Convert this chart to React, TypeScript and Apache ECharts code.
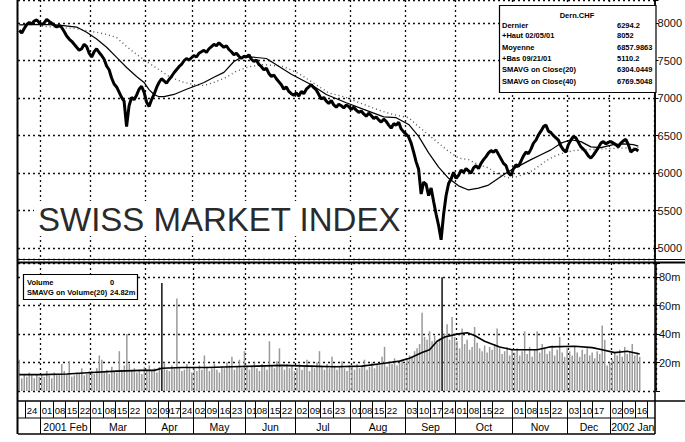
import React, { useEffect, useRef } from 'react';
import * as echarts from 'echarts';

// ---------- calendar ----------
const FIRST_DAY = '2001-01-19';
const LAST_DAY = '2002-01-25';
const HOLIDAYS = ['2001-04-13', '2001-04-16', '2001-05-01', '2001-05-24', '2001-06-04', '2001-08-01',
  '2001-12-24', '2001-12-25', '2001-12-26', '2001-12-31', '2002-01-01'];

// ---------- daily closes ----------
const closeJan01 = [7905, 7870, 7930, 7985, 8010, 7990, 8030, 8045, 8010];
const closeFeb01 = [7985, 8005, 8052, 8025, 8000, 7975, 7950, 7970, 7945, 7890, 7830, 7790, 7760, 7720, 7680, 7640, 7660, 7720, 7690, 7600];
const closeMar01 = [7550, 7620, 7660, 7610, 7570, 7520, 7430, 7380, 7270, 7190, 7150, 7080, 7010, 6960, 6620, 6900, 7010, 6980, 7040, 7120, 7160, 7080];
const closeApr01 = [6950, 6890, 6980, 7050, 7140, 7210, 7260, 7230, 7200, 7250, 7290, 7340, 7380, 7420, 7450, 7500, 7530, 7510, 7540];
const closeMay01 = [7570, 7550, 7600, 7620, 7640, 7610, 7660, 7690, 7720, 7700, 7740, 7710, 7680, 7700, 7650, 7620, 7580, 7600, 7560, 7530, 7560];
const closeJun01 = [7550, 7580, 7520, 7490, 7510, 7450, 7420, 7380, 7400, 7330, 7290, 7310, 7260, 7220, 7180, 7120, 7150, 7090, 7060, 7040];
const closeJul01 = [7070, 7030, 7090, 7060, 7120, 7150, 7180, 7140, 7110, 7050, 6990, 7010, 6960, 6930, 6970, 6910, 6880, 6920, 6900, 6870, 6910, 6890];
const closeAug01 = [6850, 6880, 6840, 6810, 6830, 6790, 6760, 6800, 6770, 6730, 6750, 6710, 6680, 6720, 6690, 6640, 6600, 6660, 6640, 6680, 6590, 6550];
const closeSep01 = [6520, 6480, 6400, 6280, 6150, 6050, 5720, 5880, 5850, 5700, 5800, 5620, 5450, 5300, 5110, 5450, 5700, 5860, 5920, 6010];
const closeOct01 = [5930, 5970, 6040, 6010, 6060, 6030, 6000, 6070, 6100, 6060, 6130, 6180, 6220, 6270, 6300, 6280, 6310, 6250, 6190, 6130, 6100, 6000, 5970];
const closeNov01 = [6060, 6110, 6090, 6160, 6230, 6280, 6260, 6320, 6400, 6440, 6510, 6560, 6620, 6640, 6560, 6540, 6500, 6470, 6440, 6360, 6310, 6280];
const closeDec01 = [6380, 6440, 6490, 6470, 6410, 6350, 6320, 6280, 6230, 6200, 6240, 6290, 6340, 6400, 6420, 6390, 6410];
const closeJan02 = [6420, 6400, 6380, 6350, 6400, 6430, 6450, 6380, 6280, 6310, 6320, 6294.2];

// ---------- daily volume, millions ----------
const volJan01 = [22, 9, 12, 10, 13, 11, 9, 12, 10];
const volFeb01 = [12, 10, 14, 11, 9, 13, 11, 12, 19, 14, 12, 21, 10, 11, 13, 12, 16, 11, 12, 14];
const volMar01 = [14, 12, 16, 25, 22, 13, 15, 12, 17, 14, 13, 28, 15, 18, 40, 19, 14, 16, 13, 15, 12, 17];
const volApr01 = [15, 18, 14, 16, 13, 17, 76, 20, 15, 14, 18, 16, 65, 17, 14, 15, 19, 16, 13];
const volMay01 = [16, 14, 18, 15, 25, 17, 14, 16, 19, 15, 13, 17, 16, 20, 18, 24, 15, 17, 22, 16, 28];
const volJun01 = [18, 15, 17, 20, 16, 14, 19, 17, 15, 35, 18, 16, 21, 30, 17, 15, 19, 16, 18, 14];
const volJul01 = [16, 19, 15, 17, 22, 14, 18, 16, 20, 28, 17, 15, 19, 16, 24, 18, 15, 17, 21, 16, 14, 18];
const volAug01 = [17, 15, 19, 16, 18, 22, 15, 17, 20, 16, 19, 18, 24, 31, 17, 21, 19, 23, 18, 20, 22, 19];
const volSep01 = [22, 25, 24, 28, 30, 33, 55, 38, 36, 42, 35, 39, 34, 37, 80, 40, 47, 36, 52, 38];
const volOct01 = [35, 30, 44, 33, 36, 29, 31, 45, 34, 30, 28, 32, 27, 31, 29, 33, 44, 30, 26, 28, 31, 25, 29];
const volNov01 = [27, 30, 25, 28, 42, 26, 31, 24, 29, 42, 27, 33, 30, 26, 28, 32, 25, 29, 38, 27, 24, 30];
const volDec01 = [28, 25, 31, 27, 24, 29, 26, 30, 25, 27, 23, 28, 26, 46, 36, 18, 20];
const volJan02 = [22, 27, 25, 29, 24, 31, 26, 28, 33, 25, 27, 24];

// ---------- moving averages ----------
const sma20Points: [string, number][] = [
  ['2001-01-19', 7980], ['2001-02-01', 7985], ['2001-02-12', 7975], ['2001-02-21', 7950], ['2001-02-27', 7880],
  ['2001-03-05', 7790], ['2001-03-09', 7680], ['2001-03-15', 7545], ['2001-03-21', 7410], ['2001-03-27', 7290],
  ['2001-03-30', 7210], ['2001-04-03', 7115], ['2001-04-05', 7050], ['2001-04-09', 7020], ['2001-04-11', 7020],
  ['2001-04-19', 7050], ['2001-04-26', 7120], ['2001-05-03', 7170], ['2001-05-08', 7210], ['2001-05-14', 7280],
  ['2001-05-18', 7345], ['2001-05-25', 7490], ['2001-05-30', 7545], ['2001-06-06', 7550], ['2001-06-14', 7530],
  ['2001-06-28', 7320], ['2001-07-10', 7180], ['2001-07-18', 7050], ['2001-07-30', 6940], ['2001-08-09', 6850],
  ['2001-08-21', 6750], ['2001-08-28', 6740], ['2001-09-04', 6650], ['2001-09-10', 6490], ['2001-09-14', 6270],
  ['2001-09-20', 6080], ['2001-09-26', 5930], ['2001-10-02', 5830], ['2001-10-08', 5775], ['2001-10-12', 5800],
  ['2001-10-18', 5840], ['2001-10-24', 5930], ['2001-10-30', 6020], ['2001-11-06', 6110], ['2001-11-12', 6180],
  ['2001-11-16', 6245], ['2001-11-22', 6310], ['2001-11-28', 6400], ['2001-12-04', 6445], ['2001-12-10', 6420],
  ['2001-12-14', 6350], ['2001-12-20', 6340], ['2002-01-03', 6380], ['2002-01-09', 6390], ['2002-01-15', 6380],
  ['2002-01-17', 6360],
];
const sma40Points: [string, number][] = [
  ['2001-02-01', 7960], ['2001-02-21', 7930], ['2001-02-27', 7900], ['2001-03-05', 7880], ['2001-03-09', 7850],
  ['2001-03-15', 7810], ['2001-03-21', 7690], ['2001-03-26', 7610], ['2001-04-02', 7490], ['2001-04-09', 7380],
  ['2001-04-17', 7290], ['2001-04-24', 7220], ['2001-05-02', 7180], ['2001-05-08', 7170], ['2001-05-14', 7210],
  ['2001-05-21', 7280], ['2001-05-28', 7360], ['2001-06-05', 7420], ['2001-06-13', 7450], ['2001-06-25', 7420],
  ['2001-07-03', 7330], ['2001-07-11', 7200], ['2001-07-19', 7070], ['2001-07-27', 7020], ['2001-08-08', 6930],
  ['2001-08-20', 6830], ['2001-08-27', 6780], ['2001-09-04', 6740], ['2001-09-10', 6620], ['2001-09-14', 6510],
  ['2001-09-20', 6400], ['2001-09-26', 6290], ['2001-10-02', 6200], ['2001-10-08', 6180], ['2001-10-12', 6110],
  ['2001-10-18', 6070], ['2001-10-24', 5980], ['2001-10-30', 5940], ['2001-11-01', 5940], ['2001-11-07', 5980],
  ['2001-11-13', 6040], ['2001-11-19', 6140], ['2001-11-23', 6220], ['2001-11-29', 6270], ['2001-12-05', 6300],
  ['2001-12-11', 6310], ['2001-12-18', 6320], ['2002-01-03', 6330], ['2002-01-17', 6340],
];
const volSmaPoints: [string, number][] = [
  ['2001-01-19', 11.5], ['2001-02-01', 11.5], ['2001-02-15', 12], ['2001-03-01', 13], ['2001-03-15', 14],
  ['2001-03-29', 14.5], ['2001-04-05', 14.5], ['2001-04-10', 16], ['2001-04-24', 16.5], ['2001-05-09', 16.5],
  ['2001-05-23', 17], ['2001-06-08', 17.5], ['2001-06-22', 18], ['2001-07-09', 17.5], ['2001-07-23', 17],
  ['2001-08-08', 17.5], ['2001-08-21', 19.5], ['2001-08-29', 21], ['2001-09-04', 23], ['2001-09-11', 27],
  ['2001-09-14', 29], ['2001-09-19', 35], ['2001-09-24', 38], ['2001-10-01', 40], ['2001-10-05', 41],
  ['2001-10-10', 39], ['2001-10-16', 35], ['2001-10-24', 31], ['2001-10-31', 29], ['2001-11-14', 29],
  ['2001-11-21', 31], ['2001-12-05', 31.5], ['2001-12-14', 30.5], ['2001-12-20', 29], ['2002-01-03', 27],
  ['2002-01-10', 28], ['2002-01-17', 26],
];

// ---------- axis table labels ----------
const weekStarts = ['2001-01-24', '2001-02-01', '2001-02-08', '2001-02-15', '2001-02-22', '2001-03-01', '2001-03-08',
  '2001-03-15', '2001-03-22', '2001-04-02', '2001-04-09', '2001-04-17', '2001-04-24', '2001-05-02', '2001-05-09',
  '2001-05-16', '2001-05-23', '2001-06-01', '2001-06-08', '2001-06-15', '2001-06-22', '2001-07-02', '2001-07-09',
  '2001-07-16', '2001-07-23', '2001-08-01', '2001-08-08', '2001-08-15', '2001-08-22', '2001-09-03', '2001-09-10',
  '2001-09-17', '2001-09-24', '2001-10-01', '2001-10-08', '2001-10-15', '2001-10-22', '2001-11-01', '2001-11-08',
  '2001-11-15', '2001-11-22', '2001-12-03', '2001-12-10', '2001-12-17', '2002-01-02', '2002-01-09', '2002-01-16'];
const weekEnd = '2002-01-23';
const monthStarts = ['2001-02-01', '2001-03-01', '2001-04-02', '2001-05-02', '2001-06-01', '2001-07-02', '2001-08-01',
  '2001-09-03', '2001-10-01', '2001-11-01', '2001-12-03', '2002-01-02'];
const monthNames = ['2001 Feb', 'Mar', 'Apr', 'May', 'Jun', 'Jul', 'Aug', 'Sep', 'Oct', 'Nov', 'Dec', '2002 Jan'];

const priceLegendTitle = 'Dern.CHF';
const priceLegendLabels = ['Dernier', '+Haut 02/05/01', 'Moyenne', '+Bas 09/21/01', 'SMAVG on Close(20)', 'SMAVG on Close(40)'];
const priceLegendValues = ['6294.2', '8052', '6857.9863', '5110.2', '6304.0449', '6769.5048'];
const volLegendLabels = ['Volume', 'SMAVG on Volume(20)'];
const volLegendValues = ['0', '24.82m'];
const bigTitle = 'SWISS MARKET INDEX';

// ---------- helpers ----------
function buildDates(): string[] {
  const out: string[] = [];
  const d = new Date(FIRST_DAY + 'T00:00:00Z');
  const end = new Date(LAST_DAY + 'T00:00:00Z').getTime();
  while (d.getTime() <= end) {
    const wd = d.getUTCDay();
    const s = d.toISOString().slice(0, 10);
    if (wd !== 0 && wd !== 6 && HOLIDAYS.indexOf(s) < 0) out.push(s);
    d.setUTCDate(d.getUTCDate() + 1);
  }
  return out;
}
const dates = buildDates();
const toCat = (d: string) => {
  const i = dates.findIndex((x) => x >= d);
  return i < 0 ? dates.length - 1 : i;
};
const closes = [...closeJan01, ...closeFeb01, ...closeMar01, ...closeApr01, ...closeMay01, ...closeJun01,
  ...closeJul01, ...closeAug01, ...closeSep01, ...closeOct01, ...closeNov01, ...closeDec01, ...closeJan02];
const volumes = [...volJan01, ...volFeb01, ...volMar01, ...volApr01, ...volMay01, ...volJun01, ...volJul01,
  ...volAug01, ...volSep01, ...volOct01, ...volNov01, ...volDec01, ...volJan02];
const monthStartIdx = new Set<number>();
dates.forEach((d, i) => { if (i > 0 && d.slice(0, 7) !== dates[i - 1].slice(0, 7)) monthStartIdx.add(i); });

const FONT = '"Liberation Sans", Arial, sans-serif';
const NARROW = '"Liberation Sans Narrow", "Liberation Sans", Arial, sans-serif';
const gridLine = { color: '#111', width: 1.3, type: [2, 3] as number[] };

export default function App() {
  const ref = useRef<HTMLDivElement>(null);
  useEffect(() => {
    const chart = echarts.init(ref.current!, null, { renderer: 'svg' });
    const xAxisBase = (gi: number) => ({
      type: 'category', gridIndex: gi, data: dates, boundaryGap: true,
      axisLine: { show: false }, axisTick: { show: false }, axisLabel: { show: false },
      splitLine: { show: true, interval: (idx: number) => monthStartIdx.has(idx), lineStyle: gridLine },
    });
    const option: any = {
      animation: false,
      backgroundColor: '#fff',
      grid: [
        { left: 18, top: 0, width: 638, height: 259 },
        { left: 18, top: 263, width: 638, height: 128 },
      ],
      xAxis: [xAxisBase(0), xAxisBase(1)],
      yAxis: [
        {
          type: 'value', gridIndex: 0, position: 'right', min: 4853, max: 8311, splitNumber: 7,
          axisLine: { show: true, lineStyle: { color: '#000', width: 1.5 } },
          axisTick: { show: true, length: 4, lineStyle: { color: '#000' } },
          axisLabel: {
            margin: 3, color: '#111', fontSize: 11, fontFamily: FONT,
            formatter: (v: number) => (Math.abs(v % 500) < 0.001 ? String(v) : ''),
          },
          splitLine: { show: true, lineStyle: gridLine },
        },
        {
          type: 'value', gridIndex: 1, position: 'right', min: 0, max: 90e6, interval: 20e6,
          axisLine: { show: true, lineStyle: { color: '#000', width: 1.5 } },
          axisTick: { show: true, length: 4, lineStyle: { color: '#000' } },
          axisLabel: {
            margin: 3, color: '#111', fontSize: 11, fontFamily: FONT,
            formatter: (v: number) => (v > 0 && v < 85e6 ? v / 1e6 + 'm' : ''),
          },
          splitLine: { show: true, lineStyle: gridLine },
        },
      ],
      series: [
        {
          type: 'bar', xAxisIndex: 1, yAxisIndex: 1, barWidth: 1.5,
          data: volumes.map((v) => v * 1e6),
          itemStyle: { color: (p: any) => (p.value > 70e6 ? '#111' : '#9a9a9a') },
          z: 2,
        },
        {
          type: 'line', xAxisIndex: 1, yAxisIndex: 1, symbol: 'none',
          data: volSmaPoints.map(([d, v]) => [toCat(d), v * 1e6]),
          lineStyle: { color: '#000', width: 1.6 }, z: 3,
        },
        {
          type: 'line', xAxisIndex: 0, yAxisIndex: 0, symbol: 'none',
          data: sma40Points.map(([d, v]) => [toCat(d), v]),
          lineStyle: { color: '#555', width: 1.4, type: [1, 3] }, z: 3,
        },
        {
          type: 'line', xAxisIndex: 0, yAxisIndex: 0, symbol: 'none',
          data: sma20Points.map(([d, v]) => [toCat(d), v]),
          lineStyle: { color: '#000', width: 1.2 }, z: 4,
        },
        {
          type: 'line', xAxisIndex: 0, yAxisIndex: 0, symbol: 'none',
          data: closes,
          lineStyle: { color: '#000', width: 3 }, z: 5,
        },
      ],
    };
    chart.setOption(option);

    const px = (i: number) => chart.convertToPixel({ xAxisIndex: 0 }, i) as number;
    const bw = px(1) - px(0);
    const edge = (i: number) => Math.round(px(i) - bw / 2) + 0.5;
    const rightEdge = Math.round(px(dates.length - 1) + bw / 2);

    const els: any[] = [];
    const line = (x1: number, y1: number, x2: number, y2: number, w = 1, extra: any = {}) => ({
      type: 'line', z: 100, silent: true, shape: { x1, y1, x2, y2 },
      style: { stroke: '#000', lineWidth: w, ...extra },
    });
    const text = (t: string, x: number, y: number, o: any = {}) => ({
      type: 'text', z: 102, silent: true, x, y,
      style: {
        text: t, fill: '#000', fontSize: 10, fontFamily: FONT,
        align: o.align || 'left', verticalAlign: 'middle',
        textAlign: o.align || 'left', textVerticalAlign: 'middle', ...o,
      },
    });

    // title
    els.push({ type: 'rect', z: 100, silent: true, shape: { x: 34, y: 201, width: 370, height: 35 }, style: { fill: '#fff' } });
    els.push(text(bigTitle, 38, 219, { fontSize: 33, fill: '#2a2a2a', fontFamily: FONT }));

    // price legend box
    els.push({ type: 'rect', z: 101, silent: true, shape: { x: 499.5, y: 5.5, width: 156.5, height: 87 },
      style: { fill: '#fff', stroke: '#000', lineWidth: 1.2 } });
    els.push(text(priceLegendTitle, 577, 15, { align: 'center', fontSize: 7.5, fontWeight: 'bold', fontFamily: NARROW }));
    const rowsY = [25, 35, 47, 58, 69, 81];
    priceLegendLabels.forEach((l, i) => {
      els.push(text(l, 502, rowsY[i], { fontSize: 7.5, fontWeight: 'bold', fontFamily: NARROW }));
      els.push(text(priceLegendValues[i], 617, rowsY[i], { fontSize: 7.5, fontWeight: 'bold', fontFamily: NARROW }));
    });
    els.push(line(577, 69.5, 608, 69.5, 1.5, {}));
    els.push(line(577, 81.5, 608, 81.5, 1.3, { lineDash: [1.5, 3] }));

    // volume legend box
    els.push({ type: 'rect', z: 101, silent: true, shape: { x: 23.5, y: 274.5, width: 114, height: 25 },
      style: { fill: '#fff', stroke: '#000', lineWidth: 1.2 } });
    volLegendLabels.forEach((l, i) => {
      els.push(text(l, 27, 282 + i * 10, { fontSize: 7.5, fontWeight: 'bold', fontFamily: NARROW }));
      els.push(text(volLegendValues[i], 110, 282 + i * 10, { fontSize: 7.5, fontWeight: 'bold', fontFamily: NARROW }));
    });

    // frame
    els.push(line(17.5, 0, 17.5, 434, 2));
    els.push(line(rightEdge, 0, rightEdge, 434, 1.5));
    els.push(line(18, 259.5, 685, 259.5, 1));
    els.push(line(18, 262.5, 685, 262.5, 2));
    els.push(line(18, 401, 685, 401, 1.5));
    els.push(line(18, 418, rightEdge, 418, 1));
    els.push(line(18, 434, rightEdge, 434, 1.5));

    // day row
    const wk = weekStarts.map((d) => edge(toCat(d)));
    const wkEnd = edge(toCat(weekEnd));
    [...wk, wkEnd].forEach((x) => els.push(line(x, 401, x, 418, 1)));
    weekStarts.forEach((d, i) => {
      els.push(text(d.slice(8, 10), wk[i] + 1.2, 410, { fontSize: 9.5, fontFamily: NARROW }));
    });

    // month row
    const ms = monthStarts.map((d) => edge(toCat(d)));
    ms.forEach((x) => els.push(line(x, 418, x, 434, 1)));
    monthNames.forEach((m, i) => {
      const a = ms[i];
      const b = i + 1 < ms.length ? ms[i + 1] : rightEdge;
      els.push(text(m, (a + b) / 2, 426.5, { align: 'center', fontSize: 10.5, fontFamily: NARROW }));
    });

    chart.setOption({ graphic: { elements: els } });
    return () => chart.dispose();
  }, []);
  return <div ref={ref} style={{ position: 'fixed', left: 0, top: 0, width: 685, height: 442 }} />;
}
